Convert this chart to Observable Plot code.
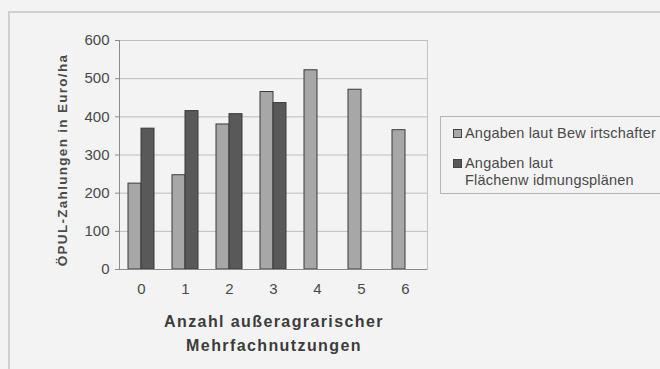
<!DOCTYPE html>
<html>
<head>
<meta charset="utf-8">
<script src="https://cdn.jsdelivr.net/npm/d3@7"></script>
<script src="https://cdn.jsdelivr.net/npm/@observablehq/plot@0.6"></script>
<style>
  html, body { margin: 0; padding: 0; background: #f3f3f3; }
  body { width: 660px; height: 369px; overflow: hidden; position: relative; font-family: "Liberation Sans", Arial, sans-serif; color: #4a4a4a; }
  #frame { position: absolute; left: 8px; top: 11px; width: 700px; height: 400px; border: 2px solid #cfcfcf; box-sizing: border-box; }
  #chart { position: absolute; left: 0; top: 0; }
  .ytitle { position: absolute; left: 62px; top: 160px; transform: translate(-50%, -50%) rotate(-90deg); white-space: nowrap; font-weight: bold; font-size: 13.5px; letter-spacing: 1.3px; color: #4a4a4a; }
  .xtitle { position: absolute; left: 274px; top: 310px; transform: translateX(-50%); text-align: center; white-space: nowrap; font-weight: bold; font-size: 16px; letter-spacing: 1.4px; line-height: 24px; color: #3c3c3c; }
  #legend { position: absolute; left: 440px; top: 116px; width: 240px; height: 78px; border: 1px solid #b5b5b5; box-sizing: border-box; }
  .item { position: absolute; left: 24px; font-size: 14.5px; letter-spacing: 0.2px; line-height: 17px; white-space: nowrap; color: #4a4a4a; }
  .sw { position: absolute; left: -12px; top: 4px; width: 7px; height: 7px; border: 1px solid #444; }
</style>
</head>
<body>
<div id="frame"></div>
<div id="chart"></div>
<div class="ytitle" id="ytitle"></div>
<div class="xtitle" id="xtitle"></div>
<div id="legend"></div>
<script>
const categories = ["0", "1", "2", "3", "4", "5", "6"];
const bewirtschafter = [225, 247, 380, 465, 522, 471, 365];
const flaechenwidmung = [369, 415, 407, 436, null, null, null];
const seriesNames = ["Angaben laut Bew irtschafter", "Angaben laut Flächenw idmungsplänen"];
const seriesColors = ["#a7a7a7", "#595959"];
const yTicks = [0, 100, 200, 300, 400, 500, 600];
const yTitle = "ÖPUL-Zahlungen in Euro/ha";
const xTitleLines = ["Anzahl außeragrarischer", "Mehrfachnutzungen"];
const legendLines = [["Angaben laut Bew irtschafter"], ["Angaben laut", "Flächenw idmungsplänen"]];

const rows = [];
categories.forEach((c, i) => {
  if (bewirtschafter[i] != null) rows.push({cat: c, series: seriesNames[0], value: bewirtschafter[i]});
  if (flaechenwidmung[i] != null) rows.push({cat: c, series: seriesNames[1], value: flaechenwidmung[i]});
});

const chart = Plot.plot({
  width: 660,
  height: 369,
  marginLeft: 117,
  marginRight: 231,
  marginTop: 40,
  marginBottom: 100,
  style: {background: "transparent", fontFamily: "'Liberation Sans', Arial, sans-serif", color: "#4a4a4a"},
  fx: {domain: categories, padding: 0, label: null},
  x: {domain: seriesNames, paddingInner: 0, paddingOuter: 0.65, axis: null},
  y: {domain: [0, 600], ticks: yTicks, label: null},
  color: {domain: seriesNames, range: seriesColors},
  marks: [
    Plot.gridY(yTicks, {stroke: "#bdbdbd", strokeOpacity: 1}),
    Plot.frame({anchor: "right", facetAnchor: "right", stroke: "#c4c4c4"}),
    Plot.frame({anchor: "left", facetAnchor: "left", stroke: "#8a8a8a"}),
    Plot.barY(rows, {fx: "cat", x: "series", y: "value", fill: "series", stroke: "#3a3a3a", strokeWidth: 1, inset: 0}),
    Plot.ruleY([0], {stroke: "#8a8a8a"}),
    Plot.axisY(yTicks, {tickSize: 4, tickPadding: 6, fontSize: 15, label: null, stroke: "#8a8a8a"}),
    Plot.axisFx({anchor: "bottom", tickSize: 0, tickPadding: 14, fontSize: 15, label: null})
  ]
});
document.getElementById("chart").appendChild(chart);

document.getElementById("ytitle").textContent = yTitle;
document.getElementById("xtitle").innerHTML = xTitleLines.join("<br>");

const legend = document.getElementById("legend");
const tops = [8, 38];
legendLines.forEach((lines, i) => {
  const d = document.createElement("div");
  d.className = "item";
  d.style.top = tops[i] + "px";
  const sw = document.createElement("span");
  sw.className = "sw";
  sw.style.background = seriesColors[i];
  d.appendChild(sw);
  const t = document.createElement("span");
  t.innerHTML = lines.join("<br>");
  d.appendChild(t);
  legend.appendChild(d);
});
</script>
</body>
</html>
